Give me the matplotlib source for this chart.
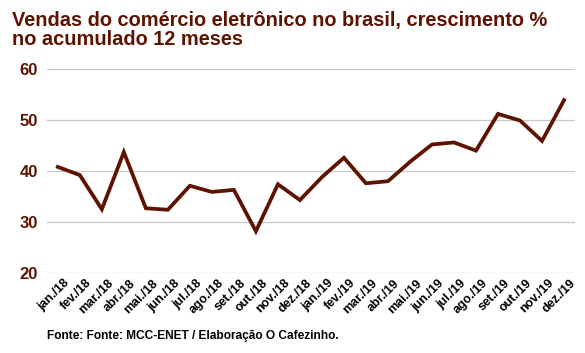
import matplotlib.pyplot as plt
import matplotlib.transforms as mtransforms

# Meses e crescimento % acumulado 12 meses
meses = ['jan./18', 'fev./18', 'mar./18', 'abr./18', 'mai./18', 'jun./18',
         'jul./18', 'ago./18', 'set./18', 'out./18', 'nov./18', 'dez./18',
         'jan./19', 'fev./19', 'mar./19', 'abr./19', 'mai./19', 'jun./19',
         'jul./19', 'ago./19', 'set./19', 'out./19', 'nov./19', 'dez./19']
crescimento = [40.8, 39.2, 32.5, 43.7, 32.7, 32.4, 37.1, 35.9, 36.3, 28.2, 37.4, 34.3,
               38.8, 42.6, 37.6, 38.0, 41.8, 45.2, 45.6, 44.0, 51.2, 49.9, 45.9, 53.9]
yticks = [20, 30, 40, 50, 60]

cor = '#5e1200'
plt.rcParams['font.family'] = ['Liberation Sans', 'DejaVu Sans']

fig = plt.figure(figsize=(5.85, 3.53), dpi=100)
ax = fig.add_axes([0.080, 0.2266, 0.903, 0.5779])

x = list(range(len(meses)))
ax.plot(x, crescimento, color=cor, linewidth=2.7, solid_joinstyle='miter', zorder=3)

ax.set_xlim(-0.5, len(meses) - 0.5)
ax.set_ylim(20, 60)
ax.set_yticks(yticks)
ax.set_yticklabels([str(v) for v in yticks], fontsize=12, fontweight='bold', color=cor)
ax.grid(axis='y', color='#c8c8c8', linewidth=0.9)
ax.set_axisbelow(True)
for s in ax.spines.values():
    s.set_visible(False)
ax.tick_params(axis='y', length=0, pad=6.5)
ax.tick_params(axis='x', length=0, pad=3)

ax.set_xticks(x)
labels = ax.set_xticklabels(meses, rotation=45, ha='right', rotation_mode='anchor',
                            fontsize=9, fontweight='bold', color='black')
# desloca os rótulos um pouco para a direita
off = mtransforms.ScaledTranslation(4 / 72, 0, fig.dpi_scale_trans)
for lb in labels:
    lb.set_transform(lb.get_transform() + off)

fig.text(0.020, 0.968, 'Vendas do comércio eletrônico no brasil, crescimento %\nno acumulado 12 meses',
         ha='left', va='top', fontsize=14.4, fontweight='bold', color=cor, linespacing=1.0)
fig.text(0.080, 0.048, 'Fonte: Fonte: MCC-ENET / Elaboração O Cafezinho.',
         ha='left', va='center', fontsize=8.6, fontweight='bold', color='black')

fig.savefig('out.png', dpi=100)
